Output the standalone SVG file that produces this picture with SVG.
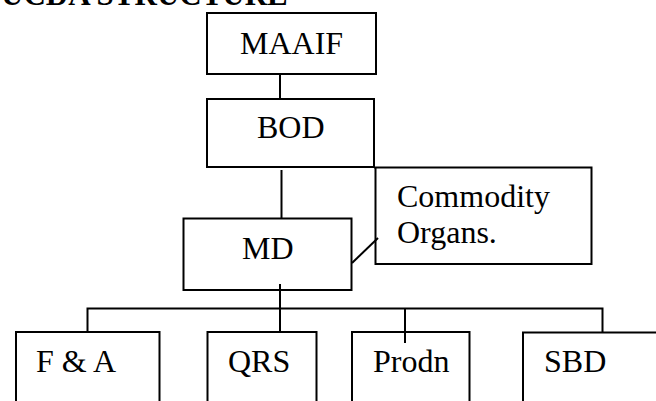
<svg xmlns="http://www.w3.org/2000/svg" width="656" height="401" viewBox="0 0 656 401">
<style>
.box{fill:#fff;stroke:#000;stroke-width:2}
.ln{fill:none;stroke:#000;stroke-width:2}
text{font-family:"Liberation Serif","Times New Roman",serif;font-size:32px;fill:#000}
.title{font-weight:bold;font-size:31px}
</style>
<rect width="656" height="401" fill="#fff"/>
<text class="title" x="1" y="5">UCDA STRUCTURE</text>
<g id="connectors">
<line class="ln" x1="280" y1="74" x2="280" y2="99"/>
<line class="ln" x1="281.5" y1="170" x2="281.5" y2="218"/>
<line class="ln" x1="352" y1="263" x2="378" y2="238"/>
<line class="ln" x1="280" y1="284" x2="280" y2="332"/>
<polyline class="ln" points="87.5,332 87.5,308.5 602.5,308.5 602.5,332"/>
<line class="ln" x1="405" y1="308" x2="405" y2="343"/>
</g>
<g id="maaif"><rect class="box" x="207" y="13" width="169" height="61"/><text x="240" y="54">MAAIF</text></g>
<g id="bod"><rect class="box" x="207" y="99" width="167" height="68"/><text x="257" y="138">BOD</text></g>
<g id="commodity"><polyline class="ln" points="374,167.5 591.5,167.5 591.5,264 375.5,264 375.5,167.5"/><text x="397" y="207">Commodity</text><text x="397" y="243">Organs.</text></g>
<g id="md"><rect class="box" x="183.5" y="218.5" width="168" height="71.5" style="fill:none"/><text x="242" y="259">MD</text></g>
<g id="fa"><polyline class="ln" points="16,402 16,332 159.5,332 159.5,402"/><text x="36" y="372">F &amp; A</text></g>
<g id="qrs"><polyline class="ln" points="207.5,402 207.5,332 316.5,332 316.5,402"/><text x="228" y="372">QRS</text></g>
<g id="prodn"><polyline class="ln" points="352,402 352,332 469.5,332 469.5,402"/><text x="373" y="372">Prodn</text></g>
<g id="sbd"><polyline class="ln" points="523,402 523,332.5 657,332.5"/><text x="544" y="372">SBD</text></g>
</svg>
